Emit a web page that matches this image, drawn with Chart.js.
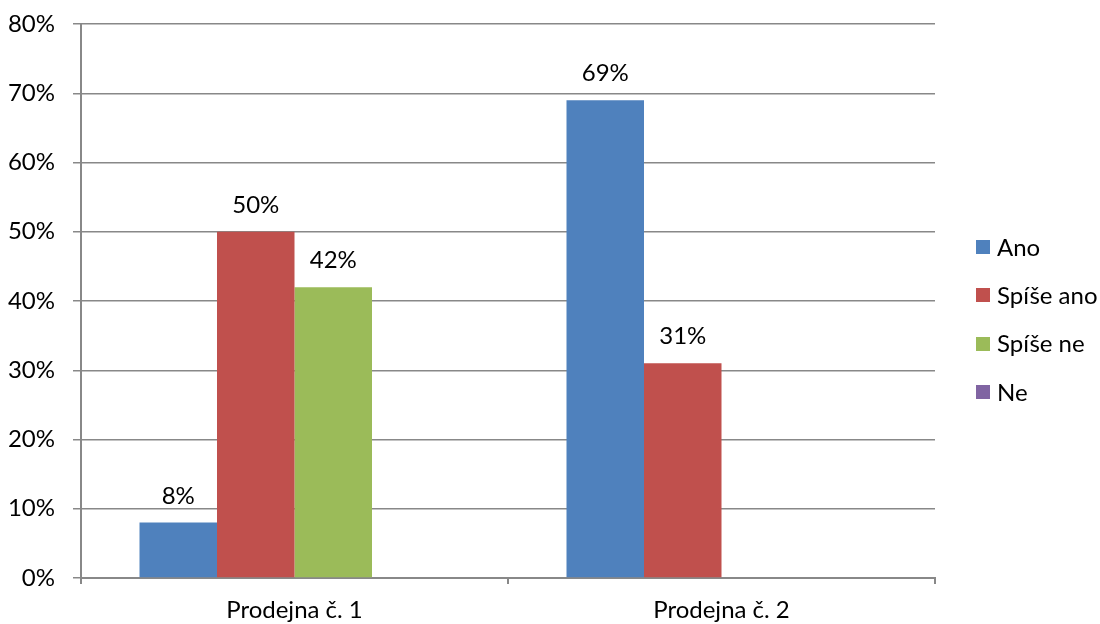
<!DOCTYPE html>
<html>
<head>
<meta charset="utf-8">
<script src="https://cdn.jsdelivr.net/npm/chart.js@4/dist/chart.umd.min.js"></script>
<style>
  html, body { margin: 0; padding: 0; background: #ffffff; }
  #wrap { width: 1100px; height: 624px; position: relative; }
</style>
</head>
<body>
<div id="wrap"><canvas id="c" width="1100" height="624"></canvas></div>
<script>
// Survey answers per shop, in percent
const categories = ['Prodejna č. 1', 'Prodejna č. 2'];
const seriesNames = ['Ano', 'Spíše ano', 'Spíše ne', 'Ne'];
const ano = [8, 69];
const spiseAno = [50, 31];
const spiseNe = [42, 0];
const ne = [0, 0];
const yTicks = [0, 10, 20, 30, 40, 50, 60, 70, 80];

const colors = ['#4F81BD', '#C0504D', '#9BBB59', '#8064A2'];
const gridColor = '#888888';
const FONT = 'Lato, "Open Sans", sans-serif';
const FS = 24;

// Value labels above each non-zero bar
const valueLabels = {
  id: 'valueLabels',
  afterDatasetsDraw(chart) {
    const ctx = chart.ctx;
    ctx.save();
    ctx.font = FS + 'px ' + FONT;
    ctx.fillStyle = '#000000';
    ctx.textAlign = 'center';
    ctx.textBaseline = 'alphabetic';
    chart.data.datasets.forEach((ds, di) => {
      const meta = chart.getDatasetMeta(di);
      meta.data.forEach((bar, i) => {
        const v = ds.data[i];
        if (!v) return;
        ctx.fillText(v + '%', bar.x, bar.y - 19);
      });
    });
    ctx.restore();
  }
};

// Vertical legend on the right, one row per series
const sideLegend = {
  id: 'sideLegend',
  afterDraw(chart) {
    const ctx = chart.ctx;
    const area = chart.chartArea;
    const rowGap = 48.4;
    const n = chart.data.datasets.length;
    const midY = 319.5;
    const boxX = area.right + 41;
    const box = 14;
    ctx.save();
    ctx.font = FS + 'px ' + FONT;
    ctx.textAlign = 'left';
    ctx.textBaseline = 'middle';
    chart.data.datasets.forEach((ds, i) => {
      const cy = midY + (i - (n - 1) / 2) * rowGap;
      ctx.fillStyle = ds.backgroundColor;
      ctx.fillRect(boxX, Math.round(cy - box / 2), box, box);
      ctx.fillStyle = '#000000';
      ctx.fillText(ds.label, boxX + 21, cy + 1);
    });
    ctx.restore();
  }
};

new Chart(document.getElementById('c'), {
  type: 'bar',
  data: {
    labels: categories,
    datasets: [
      { label: seriesNames[0], data: ano, backgroundColor: colors[0] },
      { label: seriesNames[1], data: spiseAno, backgroundColor: colors[1] },
      { label: seriesNames[2], data: spiseNe, backgroundColor: colors[2] },
      { label: seriesNames[3], data: ne, backgroundColor: colors[3] }
    ]
  },
  options: {
    responsive: false,
    animation: false,
    devicePixelRatio: 1,
    layout: { padding: { top: 24, right: 165, bottom: 0, left: 0 } },
    datasets: {
      bar: { categoryPercentage: 0.726, barPercentage: 1.0, borderWidth: 0 }
    },
    plugins: {
      legend: { display: false },
      tooltip: { enabled: false }
    },
    scales: {
      x: {
        offset: true,
        grid: {
          offset: true,
          drawOnChartArea: false,
          drawTicks: true,
          tickLength: 6,
          color: gridColor,
          lineWidth: 2
        },
        border: { color: gridColor, width: 2 },
        ticks: {
          color: '#000000',
          padding: 12,
          font: { family: FONT, size: FS }
        },
        afterFit(scale) { scale.height = 46; }
      },
      y: {
        min: 0,
        max: 80,
        afterBuildTicks(scale) { scale.ticks = yTicks.map(v => ({ value: v })); },
        grid: {
          color: gridColor,
          lineWidth: 1.5,
          drawTicks: true,
          tickLength: 8
        },
        border: { color: gridColor, width: 2 },
        ticks: {
          color: '#000000',
          padding: 18,
          font: { family: FONT, size: FS },
          callback: v => v + '%'
        },
        afterFit(scale) {
          scale.width = 81;
          scale.paddingTop = 0;
          scale.paddingBottom = 0;
        }
      }
    }
  },
  plugins: [valueLabels, sideLegend]
});
</script>
</body>
</html>
